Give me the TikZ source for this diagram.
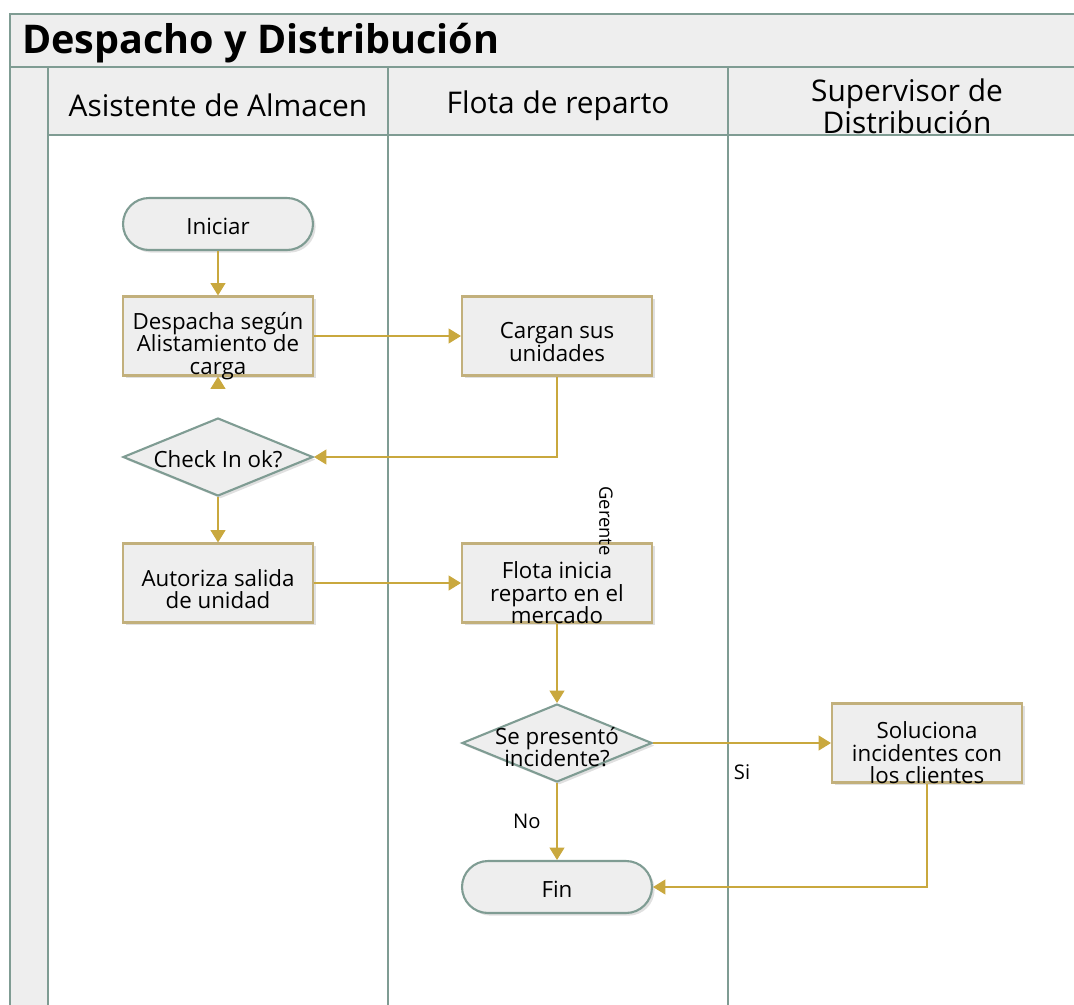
\documentclass[tikz,border=0pt]{standalone}
\usepackage{fontspec}
\setmainfont{Open Sans}
\usetikzlibrary{arrows.meta,shapes.geometric,positioning,shadows}
\definecolor{lane}{HTML}{7F9C93}
\definecolor{gold}{HTML}{C9A83E}
\definecolor{tan}{HTML}{C2B07C}
\definecolor{paper}{HTML}{EEEEEE}
\newcommand\nodefont{\fontsize{12.7}{12.8}\selectfont}
\newcommand\headfont{\fontsize{17}{17}\selectfont}
\newcommand\titlefont{\fontsize{22.5}{23}\selectfont\bfseries}

\tikzset{
  pool/.style={draw=lane, line width=1.4pt},
  soft/.style={drop shadow={shadow xshift=1.5pt, shadow yshift=-1.5pt, fill=black, opacity=0.12}},
  process/.style={draw=tan, line width=1.2pt, fill=paper, soft, minimum width=3.8cm, minimum height=1.58cm, inner sep=0pt},
  terminal/.style={draw=lane, line width=1.2pt, fill=paper, soft, rounded corners=0.52cm, minimum width=3.8cm, minimum height=1.04cm, inner sep=0pt},
  decision/.style={diamond, draw=lane, line width=1.2pt, fill=paper, soft, minimum width=3.8cm, minimum height=1.56cm, inner sep=0pt},
  lbl/.style={font=\nodefont, inner sep=0pt, align=center},
  head/.style={font=\headfont, inner sep=0pt, align=center},
  flow/.style={draw=gold, line width=0.6pt, -{Triangle[width=8.5pt,length=7pt]}},
}

\begin{document}
\begin{tikzpicture}[x=0.02cm, y=-0.02cm]
\useasboundingbox (0,0) rectangle (1074,1004);
\clip (0,0) rectangle (1074,1004);

% pool and lanes
\fill[paper] (10,14) rectangle (1090,67);
\fill[paper] (10,67) rectangle (48,1010);
\fill[paper] (48,67) rectangle (1090,135);
\draw[pool] (1090,14) -- (10,14) -- (10,1010);
\draw[pool] (10,67) -- (1090,67);
\draw[pool] (48,67) -- (48,1010);
\draw[pool] (48,135) -- (1090,135);
\draw[pool] (388,67) -- (388,1010);
\draw[pool] (728,67) -- (728,1010);

\node[anchor=west, font=\titlefont, inner sep=0pt] (titulo) at (22,43) {Despacho y Distribución};
\node[head] (asistente) at (218,105) {Asistente de Almacen};
\node[head] (flotaH) at (558,106) {Flota de reparto};
\node[head] (supervisor) at (907,106) {Supervisor de\\Distribución};

% nodes
\node[terminal, label={[lbl,yshift=-0.04cm]center:Iniciar}] (ini) at (218,224) {};
\node[process, label={[lbl,yshift=-0.2cm]center:{Despacha según\\Alistamiento de\\carga}}] (desp) at (218,336) {};
\node[process, label={[lbl,yshift=-0.12cm]center:{Cargan sus\\unidades}}] (carg) at (557,336) {};
\node[decision, label={[lbl,yshift=-0.04cm]center:Check In ok?}] (check) at (218,457) {};
\node[process, label={[lbl,yshift=-0.12cm]center:{Autoriza salida\\de unidad}}] (aut) at (218,583) {};
\node[process, label={[lbl,yshift=-0.2cm]center:{Flota inicia\\reparto en el\\mercado}}] (flota) at (557,583) {};
\node[decision, label={[lbl,yshift=-0.08cm]center:{Se presentó\\incidente?}}] (inc) at (557,743) {};
\node[process, label={[lbl,yshift=-0.2cm]center:{Soluciona\\incidentes con\\los clientes}}] (sol) at (927,743) {};
\node[terminal, label={[lbl,yshift=-0.04cm]center:Fin}] (fin) at (557,887) {};

\node[lbl, rotate=-90, font=\fontsize{10.5}{11}\selectfont] (gerente) at (606,521) {Gerente};

% edges
\draw[flow] (ini) -- (desp);
\draw[flow] (desp) -- (carg);
\draw[flow] (carg.south) |- (check.east);
\draw[flow, shorten <=0.62cm] (check.north) -- (desp.south);
\draw[flow] (check) -- (aut);
\draw[flow] (aut) -- (flota);
\draw[flow] (flota) -- (inc);
\draw[flow] (inc) -- node[lbl, below=0.42cm, font=\fontsize{11.5}{12}\selectfont]{Si} (sol);
\draw[flow] (inc) -- node[lbl, left=0.32cm, font=\fontsize{11.5}{12}\selectfont]{No} (fin);
\draw[flow] (sol.south) |- (fin.east);

\end{tikzpicture}
\end{document}
